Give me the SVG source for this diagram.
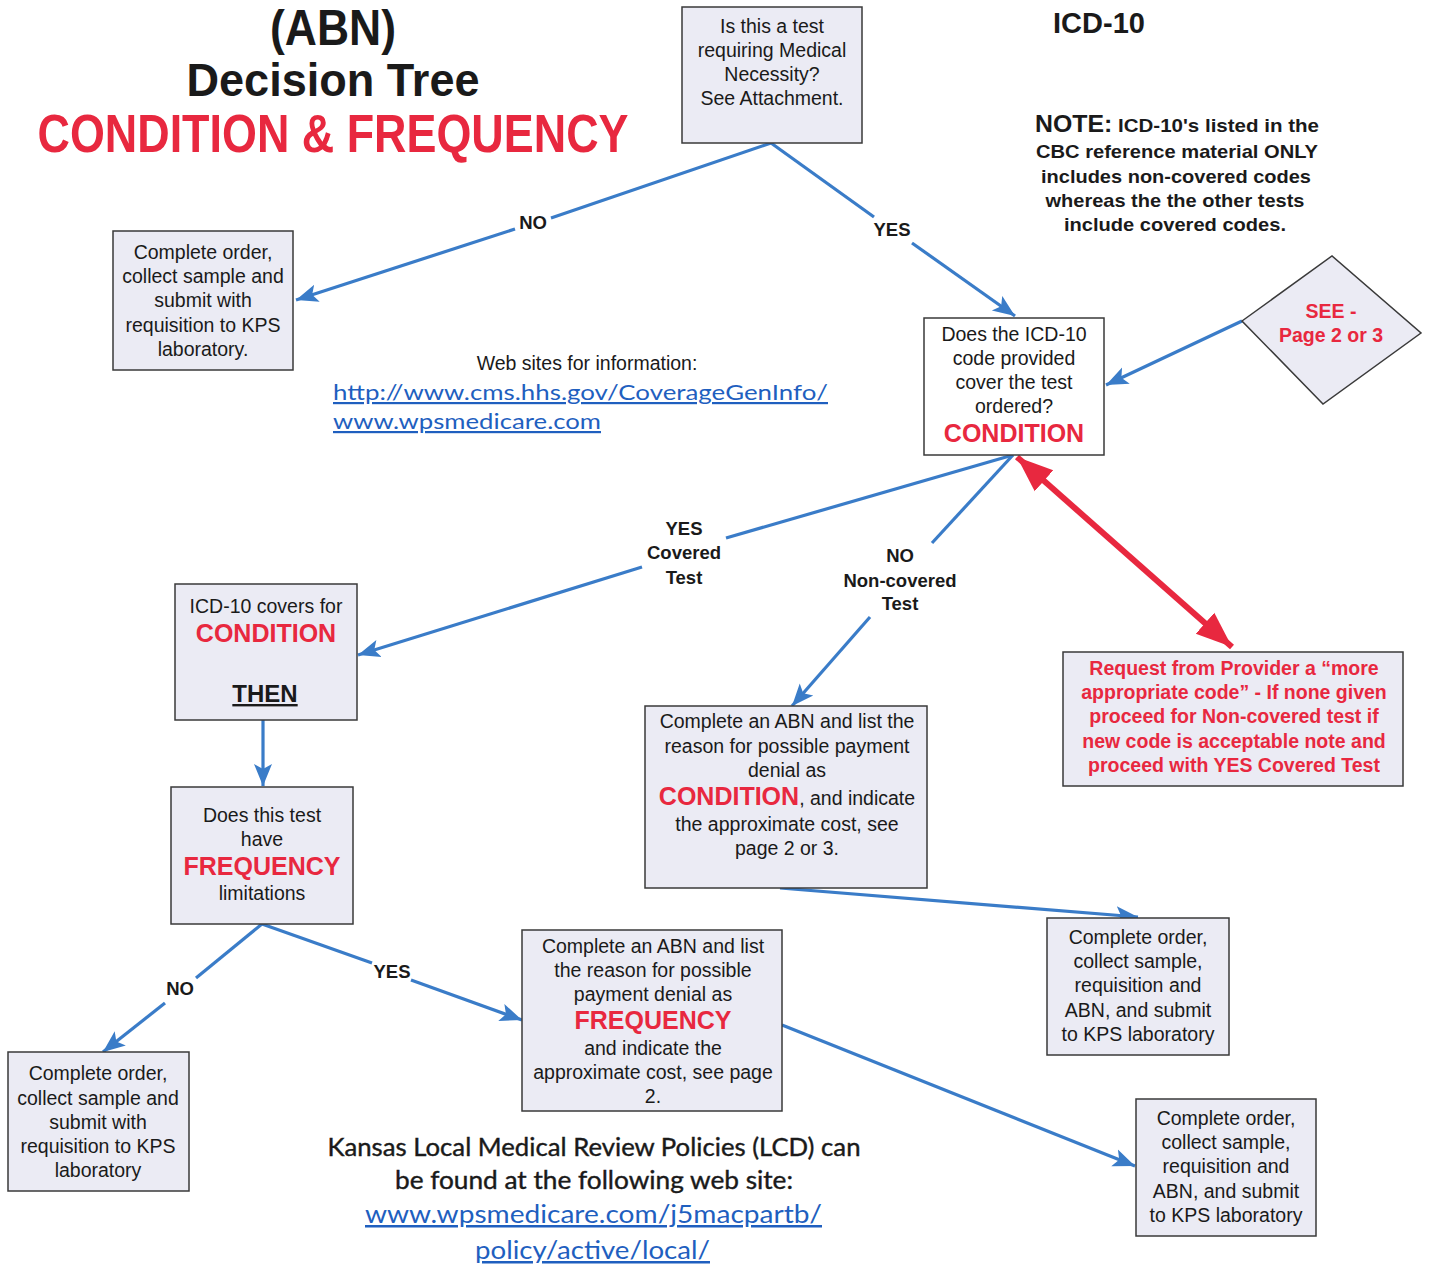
<svg xmlns="http://www.w3.org/2000/svg" width="1432" height="1266" viewBox="0 0 1432 1266">
<defs>
<style>
.box{fill:#ebebf4;stroke:#3a3a3a;stroke-width:1.5}
.wbox{fill:#ffffff;stroke:#3a3a3a;stroke-width:1.5}
.t{font-family:"Liberation Sans",Arial,sans-serif;font-size:19.5px;fill:#1a1a1a;text-anchor:middle}
.rb{font-family:"Liberation Sans",Arial,sans-serif;font-weight:bold;font-size:25px;fill:#e8283f;text-anchor:middle}
.rs{font-family:"Liberation Sans",Arial,sans-serif;font-weight:bold;font-size:19.5px;fill:#e8283f;text-anchor:middle}
.lbl{font-family:"Liberation Sans",Arial,sans-serif;font-weight:bold;font-size:18.5px;fill:#1a1a1a;text-anchor:middle}
.note{font-family:"Liberation Sans",Arial,sans-serif;font-weight:bold;font-size:19px;fill:#1a1a1a;text-anchor:middle}
.link{font-family:Lato,"Open Sans",sans-serif;font-size:25px;fill:#1f5fbf;text-decoration:underline}
.link2{font-family:Lato,"Open Sans",sans-serif;font-size:22px;fill:#1f5fbf;text-decoration:underline}
.cal{font-family:Lato,"Open Sans",sans-serif;font-size:25px;fill:#1a1a1a;stroke:#1a1a1a;stroke-width:0.4;text-anchor:middle}
.c{fill:none;stroke:#3a7cc8;stroke-width:3.2}
.red{fill:none;stroke:#e8283f;stroke-width:6}
</style>
<marker id="ab" markerUnits="userSpaceOnUse" markerWidth="24" markerHeight="20" viewBox="0 0 24 20" refX="22" refY="10" orient="auto">
<path d="M0,1 L22,10 L0,19 L5,10 Z" fill="#3a7cc8"/>
</marker>
<marker id="ar" markerUnits="userSpaceOnUse" markerWidth="38" markerHeight="30" viewBox="0 0 38 30" refX="36" refY="15" orient="auto-start-reverse">
<path d="M0,1 L36,15 L0,29 Z" fill="#e8283f"/>
</marker>
</defs>
<rect width="1432" height="1266" fill="#ffffff"/>

<g id="title">
<text x="333" y="45" font-family="Liberation Sans, Arial, sans-serif" font-weight="bold" font-size="50" fill="#1a1a1a" text-anchor="middle" textLength="126" lengthAdjust="spacingAndGlyphs">(ABN)</text>
<text x="333" y="96" font-family="Liberation Sans, Arial, sans-serif" font-weight="bold" font-size="47" fill="#1a1a1a" text-anchor="middle" textLength="293" lengthAdjust="spacingAndGlyphs">Decision Tree</text>
<text x="333" y="152" font-family="Liberation Sans, Arial, sans-serif" font-weight="bold" font-size="54" fill="#e8283f" text-anchor="middle" textLength="591" lengthAdjust="spacingAndGlyphs">CONDITION &amp; FREQUENCY</text>
</g>

<g id="icd10-note">
<text x="1099" y="33" font-family="Liberation Sans, Arial, sans-serif" font-weight="bold" font-size="29" fill="#1a1a1a" text-anchor="middle">ICD-10</text>
<text class="note" x="1177" y="132" textLength="284" lengthAdjust="spacingAndGlyphs"><tspan font-size="23">NOTE:</tspan>  ICD-10's listed in the</text>
<text class="note" x="1177" y="158" textLength="282" lengthAdjust="spacingAndGlyphs">CBC reference material ONLY</text>
<text class="note" x="1176" y="183" textLength="270" lengthAdjust="spacingAndGlyphs">includes non-covered codes</text>
<text class="note" x="1175" y="207" textLength="259" lengthAdjust="spacingAndGlyphs">whereas the the other tests</text>
<text class="note" x="1175" y="231" textLength="222" lengthAdjust="spacingAndGlyphs">include covered codes.</text>
</g>

<g id="websites">
<text class="t" x="587" y="370">Web sites for information:</text>
<text class="link2" x="333" y="400" textLength="495" lengthAdjust="spacingAndGlyphs">http://www.cms.hhs.gov/CoverageGenInfo/</text>
<text class="link2" x="333" y="429" textLength="268" lengthAdjust="spacingAndGlyphs">www.wpsmedicare.com</text>
</g>

<g id="lcd">
<text class="cal" x="594" y="1156" textLength="533" lengthAdjust="spacingAndGlyphs">Kansas Local Medical Review Policies (LCD) can</text>
<text class="cal" x="594" y="1189" textLength="398" lengthAdjust="spacingAndGlyphs">be found at the following web site:</text>
<text class="link" x="365" y="1223" textLength="457" lengthAdjust="spacingAndGlyphs">www.wpsmedicare.com/j5macpartb/</text>
<text class="link" x="475" y="1259" textLength="235" lengthAdjust="spacingAndGlyphs">policy/active/local/</text>
</g>

<g id="connectors">
<path class="c" d="M771,143 L551,218"/>
<path class="c" d="M515,229 L296,300" marker-end="url(#ab)"/>
<path class="c" d="M771,143 L874,217"/>
<path class="c" d="M912,243 L1015,316" marker-end="url(#ab)"/>
<path class="c" d="M1242,321 L1106,385" marker-end="url(#ab)"/>
<path class="c" d="M1013,455 L726,538"/>
<path class="c" d="M642,567 L358,655" marker-end="url(#ab)"/>
<path class="c" d="M1013,455 L932,543"/>
<path class="c" d="M870,617 L792,706" marker-end="url(#ab)"/>
<path class="red" d="M1017,457 L1232,647" marker-start="url(#ar)" marker-end="url(#ar)"/>
<path class="c" d="M263,720 L263,786" marker-end="url(#ab)"/>
<path class="c" d="M262,924 L196,978"/>
<path class="c" d="M165,1003 L103,1052" marker-end="url(#ab)"/>
<path class="c" d="M262,924 L372,963"/>
<path class="c" d="M411,980 L522,1020" marker-end="url(#ab)"/>
<path class="c" d="M780,888 L1138,917" marker-end="url(#ab)"/>
<path class="c" d="M782,1025 L1135,1166" marker-end="url(#ab)"/>
</g>

<g id="labels">
<text class="lbl" x="533" y="229">NO</text>
<text class="lbl" x="892" y="236">YES</text>
<text class="lbl" x="684" y="535">YES</text>
<text class="lbl" x="684" y="559">Covered</text>
<text class="lbl" x="684" y="584">Test</text>
<text class="lbl" x="900" y="562">NO</text>
<text class="lbl" x="900" y="587">Non-covered</text>
<text class="lbl" x="900" y="610">Test</text>
<text class="lbl" x="180" y="995">NO</text>
<text class="lbl" x="392" y="978">YES</text>
</g>

<g id="n-medical-necessity">
<rect class="box" x="682" y="7" width="180" height="136"/>
<text class="t" x="772" y="33">Is this a test</text>
<text class="t" x="772" y="57">requiring Medical</text>
<text class="t" x="772" y="81">Necessity?</text>
<text class="t" x="772" y="105">See Attachment.</text>
</g>

<g id="n-complete-1">
<rect class="box" x="113" y="231" width="180" height="139"/>
<text class="t" x="203" y="259">Complete order,</text>
<text class="t" x="203" y="283">collect sample and</text>
<text class="t" x="203" y="307">submit with</text>
<text class="t" x="203" y="332">requisition to KPS</text>
<text class="t" x="203" y="356">laboratory.</text>
</g>

<g id="n-condition">
<rect class="wbox" x="924" y="318" width="180" height="137"/>
<text class="t" x="1014" y="341">Does the ICD-10</text>
<text class="t" x="1014" y="365">code provided</text>
<text class="t" x="1014" y="389">cover the test</text>
<text class="t" x="1014" y="413">ordered?</text>
<text class="rb" x="1014" y="442">CONDITION</text>
</g>

<g id="n-see-page">
<polygon class="box" points="1242,321 1332,256 1421,333 1323,404"/>
<text class="rs" x="1331" y="318">SEE -</text>
<text class="rs" x="1331" y="342">Page 2 or 3</text>
</g>

<g id="n-covers-condition">
<rect class="box" x="175" y="584" width="182" height="136"/>
<text class="t" x="266" y="613">ICD-10 covers for</text>
<text class="rb" x="266" y="642">CONDITION</text>
<text x="265" y="702" font-family="Liberation Sans, Arial, sans-serif" font-weight="bold" font-size="24" fill="#1a1a1a" text-anchor="middle" text-decoration="underline">THEN</text>
</g>

<g id="n-frequency">
<rect class="box" x="171" y="787" width="182" height="137"/>
<text class="t" x="262" y="822">Does this test</text>
<text class="t" x="262" y="846">have</text>
<text class="rb" x="262" y="875">FREQUENCY</text>
<text class="t" x="262" y="900">limitations</text>
</g>

<g id="n-complete-2">
<rect class="box" x="8" y="1052" width="181" height="139"/>
<text class="t" x="98" y="1080">Complete order,</text>
<text class="t" x="98" y="1105">collect sample and</text>
<text class="t" x="98" y="1129">submit with</text>
<text class="t" x="98" y="1153">requisition to KPS</text>
<text class="t" x="98" y="1177">laboratory</text>
</g>

<g id="n-abn-condition">
<rect class="box" x="645" y="706" width="282" height="182"/>
<text class="t" x="787" y="728">Complete an ABN and list the</text>
<text class="t" x="787" y="753">reason for possible payment</text>
<text class="t" x="787" y="777">denial as</text>
<text class="t" x="787" y="805"><tspan font-weight="bold" font-size="25" fill="#e8283f">CONDITION</tspan>, and indicate</text>
<text class="t" x="787" y="831">the approximate cost, see</text>
<text class="t" x="787" y="855">page 2 or 3.</text>
</g>

<g id="n-abn-frequency">
<rect class="box" x="522" y="930" width="260" height="181"/>
<text class="t" x="653" y="953">Complete an ABN and list</text>
<text class="t" x="653" y="977">the reason for possible</text>
<text class="t" x="653" y="1001">payment denial as</text>
<text class="rb" x="653" y="1029">FREQUENCY</text>
<text class="t" x="653" y="1055">and indicate the</text>
<text class="t" x="653" y="1079">approximate cost, see page</text>
<text class="t" x="653" y="1103">2.</text>
</g>

<g id="n-request-code">
<rect class="box" x="1063" y="652" width="340" height="134"/>
<text class="rs" x="1234" y="675">Request from Provider a “more</text>
<text class="rs" x="1234" y="699">appropriate code” - If none given</text>
<text class="rs" x="1234" y="723">proceed for Non-covered test if</text>
<text class="rs" x="1234" y="748">new code is acceptable note and</text>
<text class="rs" x="1234" y="772">proceed with YES Covered Test</text>
</g>

<g id="n-complete-3">
<rect class="box" x="1047" y="918" width="182" height="137"/>
<text class="t" x="1138" y="944">Complete order,</text>
<text class="t" x="1138" y="968">collect sample,</text>
<text class="t" x="1138" y="992">requisition and</text>
<text class="t" x="1138" y="1017">ABN, and submit</text>
<text class="t" x="1138" y="1041">to KPS laboratory</text>
</g>

<g id="n-complete-4">
<rect class="box" x="1136" y="1099" width="180" height="137"/>
<text class="t" x="1226" y="1125">Complete order,</text>
<text class="t" x="1226" y="1149">collect sample,</text>
<text class="t" x="1226" y="1173">requisition and</text>
<text class="t" x="1226" y="1198">ABN, and submit</text>
<text class="t" x="1226" y="1222">to KPS laboratory</text>
</g>
</svg>
